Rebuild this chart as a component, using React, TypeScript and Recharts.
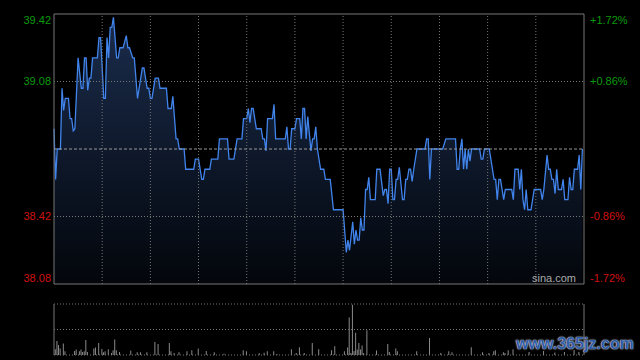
import { AreaChart, Area, BarChart, Bar, XAxis, YAxis, ReferenceLine } from "recharts"

// previous close and the axis labels (percent from previous close)
const prevClose = 38.75
const pctTicks = [1.72, 0.86, -0.86, -1.72]
const priceTicks = pctTicks.map((p) => prevClose * (1 + p / 100))
const gridMinutes = [30, 60, 90, 120, 150, 180, 210, 240, 270, 300]
const sessionMinutes = 330

// intraday price, minute index -> price (only where it changes)
const minutes = [
  0, 1, 2, 4, 5, 6, 7, 9, 10, 11,
  12, 13, 15, 17, 18, 19, 20, 21, 22, 23,
  24, 27, 28, 29, 31, 32, 33, 34, 35, 36,
  37, 39, 40, 41, 43, 45, 46, 47, 49, 50,
  52, 55, 56, 58, 59, 60, 61, 63, 65, 66,
  70, 71, 73, 74, 76, 77, 78, 81, 82, 87,
  88, 90, 92, 93, 94, 97, 98, 102, 103, 108,
  109, 112, 114, 117, 118, 120, 121, 122, 123, 124,
  126, 129, 130, 131, 132, 133, 136, 137, 138, 144,
  145, 146, 147, 148, 150, 151, 153, 154, 155, 156,
  157, 158, 160, 161, 162, 163, 164, 166, 168, 169,
  172, 174, 180, 182, 183, 184, 186, 187, 188, 189,
  190, 191, 192, 193, 194, 195, 196, 197, 200, 201,
  203, 205, 206, 207, 208, 209, 210, 211, 212, 213,
  214, 215, 217, 218, 219, 220, 221, 222, 223, 224,
  226, 231, 232, 233, 234, 235, 242, 244, 250, 251,
  252, 253, 254, 255, 256, 257, 258, 259, 260, 265,
  266, 267, 268, 271, 274, 275, 276, 277, 278, 279,
  280, 281, 285, 286, 287, 289, 290, 291, 292, 293,
  294, 295, 297, 299, 303, 304, 305, 307, 308, 309,
  310, 311, 312, 313, 314, 316, 317, 318, 320, 321,
  322, 323, 324, 326, 327, 328, 329,
]
const prices = [
  38.85, 38.6, 38.75, 38.75, 39.05, 38.94, 39.0, 39.0, 38.9, 38.9,
  38.84, 38.85, 39.2, 39.05, 39.05, 39.2, 39.2, 39.04, 39.1, 39.1,
  39.2, 39.2, 39.3, 39.3, 39.0, 39.0, 39.3, 39.2, 39.35, 39.35,
  39.4, 39.2, 39.2, 39.25, 39.25, 39.31, 39.25, 39.25, 39.2, 39.2,
  39.0, 39.15, 39.15, 39.05, 39.05, 39.0, 39.0, 39.1, 39.1, 39.05,
  39.05, 38.95, 38.95, 39.01, 38.8, 38.8, 38.75, 38.75, 38.65, 38.65,
  38.7, 38.7, 38.6, 38.6, 38.65, 38.65, 38.7, 38.7, 38.8, 38.8,
  38.7, 38.7, 38.8, 38.8, 38.9, 38.9, 38.95, 38.88, 38.95, 38.95,
  38.85, 38.85, 38.8, 38.8, 38.74, 38.9, 38.9, 38.97, 38.8, 38.8,
  38.86, 38.75, 38.75, 38.85, 38.85, 38.9, 38.9, 38.8, 38.95, 38.95,
  38.8, 38.91, 38.74, 38.8, 38.8, 38.86, 38.75, 38.65, 38.65, 38.6,
  38.6, 38.45, 38.45, 38.24, 38.3, 38.25, 38.39, 38.28, 38.35, 38.3,
  38.3, 38.41, 38.35, 38.35, 38.55, 38.55, 38.61, 38.5, 38.5, 38.65,
  38.65, 38.52, 38.55, 38.55, 38.48, 38.65, 38.65, 38.5, 38.5, 38.6,
  38.6, 38.66, 38.5, 38.5, 38.6, 38.6, 38.65, 38.65, 38.59, 38.65,
  38.75, 38.75, 38.8, 38.8, 38.6, 38.75, 38.75, 38.8, 38.8, 38.65,
  38.65, 38.75, 38.8, 38.65, 38.75, 38.65, 38.75, 38.69, 38.75, 38.75,
  38.7, 38.7, 38.75, 38.75, 38.6, 38.6, 38.5, 38.6, 38.6, 38.55,
  38.5, 38.55, 38.55, 38.5, 38.65, 38.65, 38.55, 38.65, 38.5, 38.45,
  38.55, 38.45, 38.45, 38.55, 38.55, 38.5, 38.55, 38.72, 38.65, 38.65,
  38.6, 38.6, 38.53, 38.65, 38.55, 38.55, 38.6, 38.5, 38.5, 38.61,
  38.55, 38.55, 38.65, 38.65, 38.72, 38.55, 38.75,
]

// volume (relative units), only the visible bars
const volMinutes = [
  1, 2, 3, 4, 6, 7, 13, 14, 16, 17,
  18, 19, 20, 21, 25, 26, 28, 30, 31, 32,
  34, 36, 37, 38, 39, 41, 48, 52, 54, 58,
  63, 65, 72, 73, 75, 78, 83, 86, 90, 95,
  100, 106, 118, 120, 128, 131, 133, 137, 139, 148,
  151, 153, 156, 161, 165, 173, 175, 181, 183, 184,
  185, 186, 187, 188, 189, 190, 191, 192, 193, 195,
  201, 208, 209, 213, 214, 226, 234, 241, 246, 248,
  260, 267, 271, 274, 275, 280, 281, 283, 286, 296,
  305, 312, 318, 324, 327,
]
const volumes = [
  5.7, 13.7, 9.7, 6.3, 11.3, 3.7, 4, 5.3, 3.7, 5.3,
  3, 3.7, 14.7, 3, 6.3, 7.3, 11.7, 6, 2.7, 3.7,
  5.7, 2, 4.7, 15.3, 4.7, 3, 4.3, 2.7, 2.7, 2.7,
  12.7, 10.7, 11.7, 3.7, 2, 2.7, 3.7, 4.7, 6.3, 4,
  2.7, 1.3, 4.7, 3.7, 1.7, 2.3, 3.7, 3.7, 1, 5.7,
  2, 7.7, 2, 11.7, 5.7, 4.7, 8.7, 3.7, 7.3, 36.7,
  2, 49.3, 4, 21.7, 5.3, 11.7, 5.3, 9.3, 2, 24.3,
  4.3, 10.7, 3, 6.3, 3.7, 3.7, 16.7, 2, 3.7, 2.7,
  7.7, 2.7, 2, 3.7, 4.7, 2.7, 2, 4.7, 5.7, 3,
  4, 2.5, 3, 5, 3,
]
const volMax = 50

const GREEN = "#0b9a0b"
const RED = "#d01010"
const GRID = "#777"
const FONT = "'Liberation Sans', Arial, sans-serif"

function PriceTick(props: any) {
  const { y, payload } = props
  const v = payload.value
  // top and bottom labels are pushed inside the frame
  const dy = v > 39.3 ? 6 : v < 38.2 ? -6 : 0
  return (
    <text x={51} y={y + dy} dy="0.35em" textAnchor="end" fontSize={11} fontFamily={FONT} fill={v > prevClose ? GREEN : RED}>
      {v.toFixed(2)}
    </text>
  )
}

function PctTick(props: any) {
  const { y, payload } = props
  const v = payload.value
  const dy = v > 1.5 ? 6 : v < -1.5 ? -6 : 0
  const label = (v > 0 ? "+" : "") + v.toFixed(2) + "%"
  return (
    <text x={590} y={y + dy} dy="0.35em" textAnchor="start" fontSize={11} fontFamily={FONT} fill={v > 0 ? GREEN : RED}>
      {label}
    </text>
  )
}

export default function App() {
  const data = minutes.map((m, i) => ({ m, p: prices[i] }))
  const volData = volMinutes.map((m, i) => ({ m, v: volumes[i] }))

  return (
    <div style={{ position: "fixed", left: 0, top: 0, width: 640, height: 360, background: "#000", overflow: "hidden", fontFamily: FONT }}>
      <div style={{ position: "absolute", left: 0, top: 0 }}>
        <AreaChart width={640} height={300} data={data} margin={{ top: 14, right: 0, bottom: 16, left: 0 }}>
          <defs>
            <linearGradient id="pfill" x1="0" y1="0" x2="0" y2="1">
              <stop offset="0%" stopColor="#1a2c4c" />
              <stop offset="100%" stopColor="#03060b" />
            </linearGradient>
          </defs>
          <XAxis dataKey="m" type="number" domain={[0, sessionMinutes]} hide />
          <YAxis
            yAxisId="price"
            orientation="left"
            width={54}
            domain={[priceTicks[3], priceTicks[0]]}
            ticks={priceTicks}
            interval={0}
            allowDataOverflow
            axisLine={false}
            tickLine={false}
            tick={<PriceTick />}
          />
          <YAxis
            yAxisId="pct"
            orientation="right"
            width={56}
            domain={[-1.72, 1.72]}
            ticks={pctTicks}
            interval={0}
            allowDataOverflow
            axisLine={false}
            tickLine={false}
            tick={<PctTick />}
          />
          <Area
            yAxisId="price"
            dataKey="p"
            type="linear"
            stroke="#4084ec"
            strokeWidth={1.3}
            fill="url(#pfill)"
            fillOpacity={1}
            dot={false}
            activeDot={false}
            isAnimationActive={false}
          />
          {gridMinutes.map((m) => (
            <ReferenceLine key={m} yAxisId="price" x={m} stroke={GRID} strokeDasharray="1 2" />
          ))}
          <ReferenceLine yAxisId="price" y={priceTicks[1]} stroke={GRID} strokeDasharray="1 2" />
          <ReferenceLine yAxisId="price" y={priceTicks[2]} stroke={GRID} strokeDasharray="1 2" />
          <ReferenceLine yAxisId="price" y={prevClose} stroke="#999" strokeDasharray="3 2" />
          <ReferenceLine yAxisId="price" y={priceTicks[0]} stroke={GRID} />
          <ReferenceLine yAxisId="price" y={priceTicks[3]} stroke={GRID} />
          <ReferenceLine yAxisId="price" x={0} stroke={GRID} />
          <ReferenceLine yAxisId="price" x={sessionMinutes} stroke={GRID} />
        </AreaChart>
      </div>

      <div style={{ position: "absolute", left: 532, top: 272, fontSize: 11, color: "#aaa" }}>sina.com</div>

      <div style={{ position: "absolute", left: 0, top: 296 }}>
        <BarChart width={640} height={64} data={volData} margin={{ top: 8, right: 56, bottom: 5, left: 54 }}>
          <XAxis dataKey="m" type="number" domain={[0, sessionMinutes]} hide />
          <YAxis domain={[0, volMax]} hide allowDataOverflow />
          <ReferenceLine y={volMax} stroke={GRID} strokeDasharray="1 2" />
          <ReferenceLine y={volMax / 2} stroke={GRID} strokeDasharray="1 2" />
          <ReferenceLine y={0} stroke={GRID} strokeDasharray="1 2" />
          <ReferenceLine x={0} stroke={GRID} />
          <ReferenceLine x={sessionMinutes} stroke={GRID} />
          <Bar dataKey="v" fill="#8a8a8a" barSize={1} isAnimationActive={false} />
        </BarChart>
      </div>

      <div
        style={{
          position: "absolute",
          left: 516,
          top: 335,
          fontSize: 16,
          fontWeight: "bold",
          color: "#2f5ca6",
          textShadow: "0 0 2px #cfd8e8, 0 0 1px #fff",
          whiteSpace: "nowrap",
        }}
      >
        www.365jz.com
      </div>
    </div>
  )
}
